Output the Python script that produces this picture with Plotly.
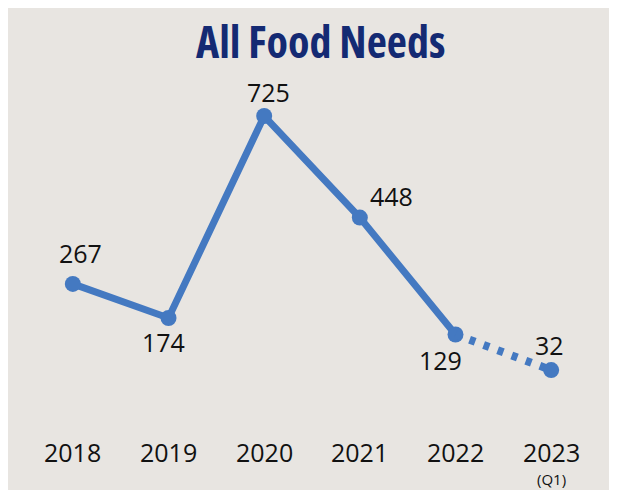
import plotly.graph_objects as go

years = ["2018", "2019", "2020", "2021", "2022", "2023"]
sublabels = ["", "", "", "", "", "(Q1)"]
values = [267, 174, 725, 448, 129, 32]
title_text = "All Food Needs"

# label offsets in pixels (dx, dy up-positive)
label_offsets = [(8, 31), (-5, -24), (4, 24), (32, 22), (-15, -25), (-2, 25)]

LINE = "#4479c1"
BG = "#e8e5e1"
xs = list(range(len(years)))

fig = go.Figure()
fig.add_trace(go.Scatter(
    x=xs[:5], y=values[:5], mode="lines+markers",
    line=dict(color=LINE, width=7),
    marker=dict(color=LINE, size=16),
    hoverinfo="skip", showlegend=False))
fig.add_trace(go.Scatter(
    x=xs[4:], y=values[4:], mode="lines",
    line=dict(color=LINE, width=8, dash="6px,9px"),
    hoverinfo="skip", showlegend=False))
fig.add_trace(go.Scatter(
    x=xs[5:], y=values[5:], mode="markers",
    marker=dict(color=LINE, size=16),
    hoverinfo="skip", showlegend=False))

font_main = "Open Sans, Noto Sans, sans-serif"
for i, v in enumerate(values):
    dx, dy = label_offsets[i]
    fig.add_annotation(x=xs[i], y=v, text=str(v), showarrow=False,
                       xshift=dx, yshift=dy,
                       font=dict(family=font_main, size=25, color="#111111"))

for i, yr in enumerate(years):
    fig.add_annotation(x=xs[i], y=-0.1, yref="paper", text=yr, showarrow=False,
                       yanchor="middle",
                       font=dict(family=font_main, size=25, color="#111111"))
    if sublabels[i]:
        fig.add_annotation(x=xs[i], y=-0.183, yref="paper", text=sublabels[i],
                           showarrow=False, yanchor="middle",
                           font=dict(family=font_main, size=15, color="#111111"))

fig.add_annotation(x=(320 - 25) / 573.6, y=(420 - 41) / 320, xref="paper", yref="paper",
                   text=f"<span style='font-stretch:75%;font-weight:700'>{title_text}</span>",
                   showarrow=False, yanchor="middle",
                   font=dict(family="Open Sans, DejaVu Sans Condensed, sans-serif",
                             size=44, color="#142a73", weight=700))

fig.update_layout(
    width=617, height=490,
    margin=dict(l=17, r=26, t=92, b=78),
    paper_bgcolor=BG, plot_bgcolor="rgba(0,0,0,0)",
    xaxis=dict(range=[-0.5, 5.5], visible=False, fixedrange=True),
    yaxis=dict(range=[-104.2, 768.7], visible=False, fixedrange=True),
)

fig.write_html("out.html")
